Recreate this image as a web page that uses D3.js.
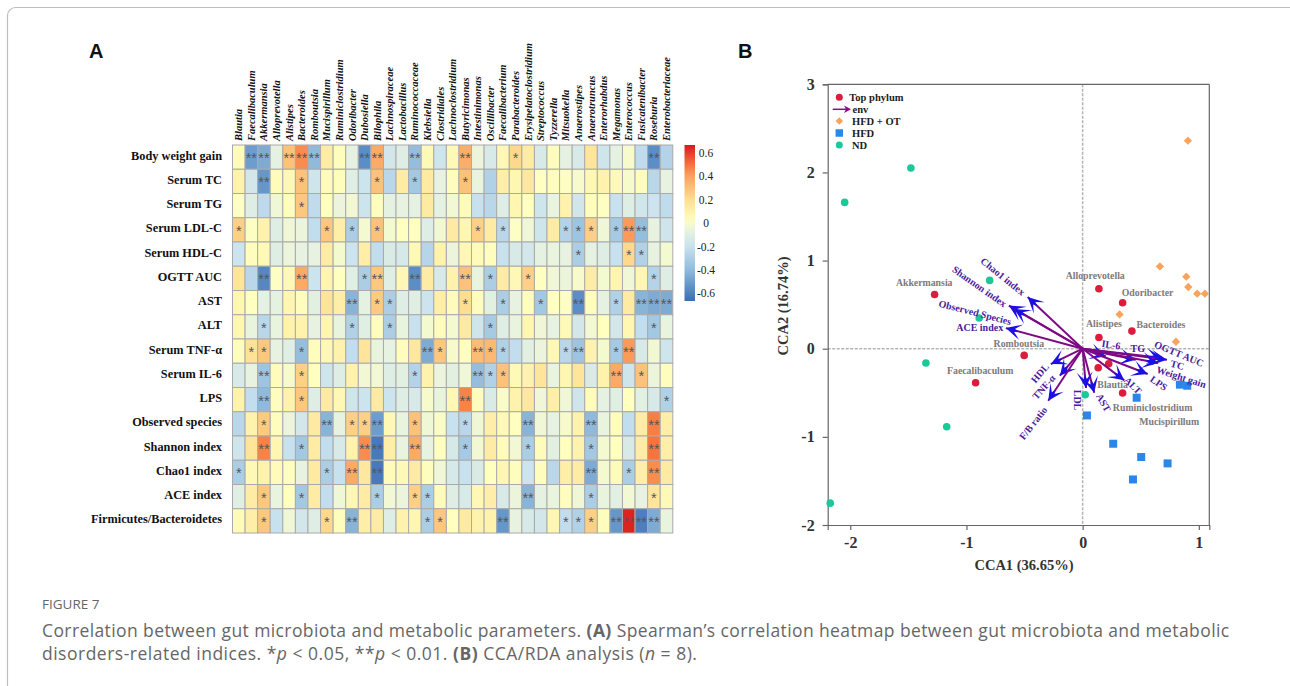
<!DOCTYPE html>
<html>
<head>
<meta charset="utf-8">
<title>Figure 7</title>
<script src="https://cdn.jsdelivr.net/npm/d3@7"></script>
<style>
  html, body { margin: 0; padding: 0; background: #fff; }
  svg { display: block; }
  .serif { font-family: "Liberation Serif", serif; font-weight: bold; }
</style>
</head>
<body>
<svg id="fig" width="1290" height="686"></svg>
<script>
// heatmap data
let genera = ['Blautia','Faecalibaculum','Akkermansia','Alloprevotella','Alistipes','Bacteroides','Romboutsia','Mucispirillum','Ruminiclostridium','Odoribacter','Dubosiella','Bilophila','Lachnospiraceae','Lactobacillus','Ruminococcaceae','Klebsiella','Clostridiales','Lachnoclostridium','Butyricimonas','Intestinimonas','Oscillibacter','Faecalibacterium','Parabacteroides','Erysipelatoclostridium','Streptococcus','Tyzzerella','Mitsuokella','Anaerostipes','Anaerotruncus','Enterorhabdus','Megamonas','Enterococcus','Fusicatenibacter','Roseburia','Enterobacteriaceae'];
let indices = ['Body weight gain','Serum TC','Serum TG','Serum LDL-C','Serum HDL-C','OGTT AUC','AST','ALT','Serum TNF-α','Serum IL-6','LPS','Observed species','Shannon index','Chao1 index','ACE index','Firmicutes/Bacteroidetes'];

let corr = [
  [.05,-.5,-.45,-.07,.3,.45,-.4,.13,.04,-.07,-.55,.38,-.15,-.1,-.38,.06,-.17,.06,.37,-.04,-.13,.07,.22,.13,-.13,.05,-.07,-.13,.17,-.17,-.07,0,-.23,-.55,-.27],
  [.1,-.15,-.52,.05,.07,.3,-.17,.05,.04,-.09,-.18,.3,-.25,.13,-.33,.14,-.06,.04,.3,-.05,-.28,.12,.08,.15,.03,.04,.02,0,.07,.1,.06,0,.04,-.25,-.06],
  [.02,-.1,-.24,-.03,.04,.28,-.23,.03,-.04,-.02,-.18,.04,-.07,-.06,-.07,.14,-.07,-.02,.05,-.2,-.25,-.1,.08,.03,-.17,-.05,.1,-.16,.04,.02,-.2,-.1,-.16,-.18,-.23],
  [.25,.02,.1,-.1,-.03,-.04,-.22,.28,.12,-.3,-.01,.3,-.01,.03,.03,-.1,-.02,.14,.08,.25,.13,-.25,.02,-.03,-.17,.13,-.27,-.35,.25,-.03,-.32,.42,-.38,-.06,-.17],
  [-.18,.04,.06,-.1,-.04,-.06,-.06,.13,-.01,-.18,.12,-.22,-.12,-.14,.06,-.26,.1,-.04,.07,.05,.04,-.2,-.13,-.15,-.07,-.05,-.06,-.3,-.07,-.1,-.2,.22,-.28,-.06,-.01],
  [.17,-.25,-.57,.02,.06,.38,-.18,.09,.03,-.09,-.3,.28,-.09,.07,-.55,.13,-.13,.1,.3,-.05,-.3,.13,.07,.25,.03,-.03,-.04,0,.13,-.01,.09,-.03,.08,-.27,-.1],
  [.08,.03,-.07,-.07,.08,.04,-.08,.17,.12,-.42,-.07,.27,-.3,-.1,-.09,-.18,.12,.05,.2,.04,-.08,-.3,-.06,.04,-.33,.03,.02,-.55,.04,-.07,-.28,.14,-.42,-.45,-.45],
  [.08,-.05,-.25,-.05,.1,.1,-.06,.09,-.05,-.28,-.09,.04,-.3,-.05,-.2,-.01,.05,-.01,.14,-.17,-.32,-.1,-.05,.08,-.03,-.06,.06,-.15,-.02,.03,-.15,.08,-.22,-.33,-.05],
  [.04,.18,.28,-.06,-.09,-.38,.04,.07,.1,-.22,.17,-.05,-.06,.04,.15,-.45,.28,0,.03,.32,.33,-.28,-.22,-.08,-.04,.07,-.25,-.35,.1,-.01,-.32,.42,-.13,-.02,-.17],
  [-.13,-.06,-.35,.05,0,.25,.03,-.17,-.1,.1,-.02,-.02,-.1,-.08,-.27,.1,-.04,-.08,-.03,-.38,-.28,.3,.06,.1,.17,-.05,.08,.17,-.12,.1,.38,-.17,.3,-.04,.04],
  [.1,-.22,-.4,.04,.1,.28,-.1,.14,.07,-.17,-.18,.14,-.18,-.1,-.13,0,-.05,.07,.47,.04,-.12,.01,.1,.15,-.03,.12,-.03,-.17,.05,-.07,-.09,.03,-.08,-.13,-.28],
  [-.25,.1,.27,.04,-.04,-.15,.14,-.42,-.06,.25,.25,-.5,.07,-.05,.3,-.03,.01,-.2,-.25,-.03,.12,.06,.03,-.42,-.03,-.06,0,.1,-.4,-.05,.04,-.22,.13,.48,.12],
  [-.17,.17,.47,.08,-.2,-.33,.13,-.22,-.13,.1,.45,-.62,.12,-.05,.38,-.06,.03,-.14,-.32,-.02,.13,.05,-.02,-.3,.05,-.08,.03,.1,-.33,-.01,.03,-.13,.13,.5,.12],
  [-.3,.06,.1,.05,.03,-.06,.14,-.3,-.2,.38,.15,-.62,.05,.06,.14,.04,-.03,-.14,-.2,-.12,.03,.08,.04,-.18,.04,-.25,.12,.13,-.45,-.01,.05,-.3,.12,.45,.14],
  [-.09,.13,.28,-.05,.03,-.33,.13,-.22,-.03,.07,.13,-.3,-.02,-.04,.25,-.3,.05,-.1,-.13,.07,.12,-.13,-.04,-.42,-.07,-.05,.04,-.03,-.3,-.05,-.08,-.02,-.06,.17,.06],
  [.05,.12,.28,-.2,-.03,-.15,-.1,.22,.04,-.42,.12,.13,-.1,.1,.08,-.3,.28,.03,.14,.1,.1,-.52,-.06,-.13,-.15,.08,-.22,-.28,.25,.04,-.52,.65,-.6,-.45,-.05]
];

// columns that carry one or two stars, per row
let oneStar = [[22],[5,11,14,18],[5],[0,7,9,11,19,21,26,27,28,30],[27,31,32],[10,20,23,33],[11,12,18,21,24,30],[2,9,12,20,33],[1,2,5,16,20,21,26,30],[5,14,20,21,32],[5,34],[2,9,10,14,18],[5,18,23,28],[0,7,31],[2,5,11,14,15,28,33],[2,7,15,16,26,27,28]];
let twoStar = [[1,2,4,5,6,10,11,14,18,33],[2],[],[31,32],[],[2,5,11,14,18],[9,27,32,33,34],[],[15,19,27,31],[2,19,30],[2,18],[7,11,23,28,33],[2,10,11,14,33],[9,11,28,33],[23],[9,21,30,31,32,33]];

let colorTicks = [0.6,0.4,0.2,0,-0.2,-0.4,-0.6];
let colorStops = [-0.66,-0.55,-0.4,-0.2,-0.05,0.03,0.2,0.4,0.5,0.67];
let colorRange = ['#3c6db4','#5b8ec6','#8fbadb','#c8e1ef','#e9f4df','#ffffc0','#fedf92','#fca45f','#f8743f','#d7191c'];

// CCA data
let taxa = ['Akkermansia','Alloprevotella','Odoribacter','Bacteroides','Alistipes','Romboutsia','Faecalibaculum','Blautia','Mucispirillum','Ruminiclostridium'];
let taxaX = [-1.274,.14,.344,.424,.14,-.503,-.921,.134,.224,.344];
let taxaY = [.616,.681,.522,.2,.128,-.076,-.386,-.216,-.17,-.503];
let otX = [.665,.892,.909,.986,1.052,.318,.803,.906];
let otY = [.934,.817,.70,.624,.624,.389,.079,2.36];
let hfdX = [.837,.90,.465,.037,.263,.504,.731,.433];
let hfdY = [-.408,-.42,-.556,-.757,-1.078,-1.229,-1.301,-1.483];
let ndX = [-1.478,-2.048,-.80,-.89,-1.349,-1.17,.022,-2.172];
let ndY = [2.05,1.66,.775,.348,-.162,-.885,-.522,-1.752];
let envNames = ['Chao1 index','Shannon index','Observed Species','ACE index','IL-6','TG','OGTT AUC','TC','Weight gain','LPS','ALT','AST','LDL','HDL','TNF-α','F/B ratio'];
let envX = [-.473,-.635,-.589,-.661,.2,.458,.686,.726,.65,.56,.358,.10,.029,-.274,-.196,-.296];
let envY = [.586,.49,.449,.234,-.087,-.125,-.106,-.125,-.163,-.287,-.359,-.50,-.446,-.174,-.306,-.59];

// label placement (px from the taxon dot, then px centre + angle for env labels)
let taxaDx = [-10.4,-3.7,25,29,5,-5.3,4.6,14.4,60.6,30];
let taxaDy = [-11.4,-12.3,-9.3,-6,-13,-11.4,-11.7,17.7,58.3,15];
let envLabelX = [1002.7,979.3,975,979.7,1111,1137.7,1179,1177.3,1181.3,1158.7,1132.7,1103.3,1077,1040,1044,1033.3];
let envLabelY = [276.7,286.7,312.7,327.3,345,348.3,354,365.3,377.3,383.3,385.7,402.7,400,373.3,387.3,423.3];
let envAngle = [39,35,14.5,0,8,0,22.5,15,17.6,35,45,60,90,-50,-48,-52];

let svg = d3.select('#fig');

// card outline, runs off the right and bottom of the page
svg.append('rect').attr('x',7.5).attr('y',7.5).attr('width',1400).attr('height',800).attr('rx',8)
    .attr('fill','none').attr('stroke','#bdbdbd').attr('stroke-width',1.2);

svg.append('text').attr('x',89).attr('y',58).text('A')
    .style('font-family','"Liberation Sans"').style('font-weight','bold').style('font-size','20px').attr('fill','#111');
svg.append('text').attr('x',738).attr('y',58).text('B')
    .style('font-family','"Liberation Sans"').style('font-weight','bold').style('font-size','20px').attr('fill','#111');

function drawHeatmap(){
    let x = d3.scaleBand().domain(d3.range(genera.length)).range([232.5,672.8]);
    let y = d3.scaleBand().domain(d3.range(indices.length)).range([145,533]);
    let color = d3.scaleLinear().domain(colorStops).range(colorRange);
    let g = svg.append('g');

    corr.forEach(function(row,i){
        g.selectAll(null).data(row).enter().append('rect')
            .attr('x',(d,j) => x(j))
            .attr('y',y(i))
            .attr('width',x.bandwidth())
            .attr('height',y.bandwidth())
            .attr('fill',d => color(d))
            .attr('stroke','#aaaaaa')
            .attr('stroke-width',1);

        let stars = oneStar[i].map(c => [c,'*']).concat(twoStar[i].map(c => [c,'**']));
        g.selectAll(null).data(stars).enter().append('text')
            .attr('x',d => x(d[0]) + x.bandwidth()/2)
            .attr('y',y(i) + y.bandwidth()/2 + 6)
            .attr('text-anchor','middle')
            .text(d => d[1])
            .style('font-family','"Liberation Sans"')
            .style('font-size','14.5px')
            .attr('fill','#55565c');
    });

    g.selectAll(null).data(genera).enter().append('text')
        .attr('class','serif')
        .attr('transform',(d,j) => 'translate(' + (x(j)+x.bandwidth()/2+3.5) + ',141) rotate(-90)')
        .text(d => d)
        .style('font-size','10.5px')
        .style('font-style','italic')
        .attr('fill','#111');

    g.selectAll(null).data(indices).enter().append('text')
        .attr('class','serif')
        .attr('x',222)
        .attr('y',(d,i) => y(i)+y.bandwidth()/2+2.5)
        .attr('text-anchor','end')
        .text(d => d)
        .style('font-size','12.3px')
        .attr('fill','#111');

    // colour bar
    let barY = d3.scaleLinear().domain([0.67,-0.66]).range([145,301]);
    let grad = svg.append('defs').append('linearGradient').attr('id','bar')
        .attr('x1',0).attr('x2',0).attr('y1',0).attr('y2',1);
    d3.range(0,1.001,0.05).forEach(function(t){
        grad.append('stop').attr('offset',t).attr('stop-color',color(barY.invert(145+156*t)));
    });
    g.append('rect').attr('x',684.5).attr('y',145).attr('width',10.5).attr('height',156).attr('fill','url(#bar)');
    g.selectAll(null).data(colorTicks).enter().append('text')
        .attr('x',706)
        .attr('y',d => barY(d)+3.5)
        .attr('text-anchor','middle')
        .text(d => d)
        .style('font-family','"Liberation Serif"')
        .style('font-size','11.5px')
        .attr('fill','#222');
}

function drawCCA(){
    let x = d3.scaleLinear().domain([-2.194,1.09]).range([827.7,1209.3]);
    let y = d3.scaleLinear().domain([-2,3]).range([525,84.3]);
    let g = svg.append('g');

    // zero lines
    g.append('line').attr('x1',x(0)).attr('x2',x(0)).attr('y1',y(3)).attr('y2',y(-2))
        .attr('stroke','#b4b4b4').attr('stroke-width',1.5).attr('stroke-dasharray','3,1.5');
    g.append('line').attr('x1',x.range()[0]).attr('x2',x.range()[1]).attr('y1',y(0)).attr('y2',y(0))
        .attr('stroke','#b4b4b4').attr('stroke-width',1.5).attr('stroke-dasharray','3,1.5');

    let axB = g.append('g').attr('transform','translate(0,525)').call(d3.axisBottom(x).tickValues([-2,-1,0,1]).tickFormat(d => String(d)).tickSize(5));
    let axL = g.append('g').attr('transform','translate(827.7,0)').call(d3.axisLeft(y).tickValues([-2,-1,0,1,2,3]).tickFormat(d => String(d)).tickSize(5));
    [axB,axL].forEach(function(a){
        a.selectAll('path,line').attr('stroke','#666').attr('stroke-width',1.2);
        a.selectAll('text').attr('class','serif').style('font-size','16px').attr('fill','#333');
    });
    axB.selectAll('text').attr('dy','0.95em');
    axL.selectAll('text').attr('dx','-5px');
    // closing the frame on top and right
    g.append('line').attr('x1',827.7).attr('x2',1209.3).attr('y1',84.3).attr('y2',84.3).attr('stroke','#666').attr('stroke-width',1.2);
    g.append('line').attr('x1',1209.3).attr('x2',1209.3).attr('y1',84.3).attr('y2',525).attr('stroke','#666').attr('stroke-width',1.2);

    g.append('text').attr('class','serif').attr('x',1024).attr('y',570).attr('text-anchor','middle')
        .text('CCA1 (36.65%)').style('font-size','14.5px').attr('fill','#333');
    g.append('text').attr('class','serif').attr('transform','translate(788,306) rotate(-90)').attr('text-anchor','middle')
        .text('CCA2 (16.74%)').style('font-size','14.5px').attr('fill','#333');

    // group points
    g.selectAll(null).data(ndX).enter().append('circle')
        .attr('cx',d => x(d)).attr('cy',(d,i) => y(ndY[i])).attr('r',3.8).attr('fill','#1cc79a');
    g.selectAll(null).data(otX).enter().append('path')
        .attr('d',d3.symbol().type(d3.symbolDiamond2).size(44))
        .attr('transform',(d,i) => 'translate(' + x(d) + ',' + y(otY[i]) + ')').attr('fill','#f9a45c');
    g.selectAll(null).data(hfdX).enter().append('path')
        .attr('d',d3.symbol().type(d3.symbolSquare).size(64))
        .attr('transform',(d,i) => 'translate(' + x(d) + ',' + y(hfdY[i]) + ')').attr('fill','#2a86ea');
    g.selectAll(null).data(taxaX).enter().append('circle')
        .attr('cx',d => x(d)).attr('cy',(d,i) => y(taxaY[i])).attr('r',3.8).attr('fill','#dc1c3c');

    g.selectAll(null).data(taxa).enter().append('text')
        .attr('class','serif')
        .attr('x',(d,i) => x(taxaX[i]) + taxaDx[i])
        .attr('y',(d,i) => y(taxaY[i]) + taxaDy[i] + 3)
        .attr('text-anchor','middle')
        .text(d => d)
        .style('font-size','9.8px')
        .attr('fill','#7d7a7a');

    // env arrows
    let marker = svg.select('defs').append('marker').attr('id','head')
        .attr('markerUnits','userSpaceOnUse')
        .attr('viewBox','-18 -9 19 18')
        .attr('refX',0).attr('refY',0)
        .attr('markerWidth',19).attr('markerHeight',18)
        .attr('orient','auto');
    marker.append('path').attr('d','M0,0 L-16,-8 L-9,-1.6 L-13,0 L-9,1.6 L-16,8 Z').attr('fill','#1c0fe6');

    g.selectAll(null).data(envX).enter().append('line')
        .attr('x1',x(0)).attr('y1',y(0))
        .attr('x2',d => x(d)).attr('y2',(d,i) => y(envY[i]))
        .attr('stroke','#7d0a85').attr('stroke-width',2)
        .attr('marker-end','url(#head)');

    g.selectAll(null).data(envNames).enter().append('text')
        .attr('class','serif')
        .attr('transform',(d,i) => 'translate(' + envLabelX[i] + ',' + (envLabelY[i]) + ') rotate(' + envAngle[i] + ')')
        .attr('text-anchor','middle').attr('dy','0.32em')
        .text(d => d)
        .style('font-size','10px')
        .attr('fill','#4a1a9c');

    // legend
    let lg = g.append('g');
    lg.append('circle').attr('cx',839.3).attr('cy',97.3).attr('r',3.5).attr('fill','#dc1c3c');
    lg.append('line').attr('x1',832.7).attr('x2',846).attr('y1',109.3).attr('y2',109.3).attr('stroke','#8b0a90').attr('stroke-width',1.5);
    lg.append('path').attr('d','M851,109.3 L844,105.5 L846,109.3 L844,113 Z').attr('fill','#8b0a90');
    lg.append('path').attr('d',d3.symbol().type(d3.symbolDiamond2).size(36)).attr('transform','translate(839.3,121)').attr('fill','#f9a45c');
    lg.append('path').attr('d',d3.symbol().type(d3.symbolSquare).size(56)).attr('transform','translate(839.3,133)').attr('fill','#2a86ea');
    lg.append('circle').attr('cx',839.3).attr('cy',145).attr('r',3.5).attr('fill','#1cc79a');
    let legendNames = ['Top phylum','env','HFD + OT','HFD','ND'];
    let legendX = [849.3,852.5,852,852,852];
    lg.selectAll(null).data(legendNames).enter().append('text')
        .attr('class','serif')
        .attr('x',(d,i) => legendX[i])
        .attr('y',(d,i) => 101 + i*12)
        .text(d => d)
        .style('font-size','10.5px')
        .attr('fill','#1c1c1c');
}

function drawCaption(){
    let font = '"Open Sans", Lato, sans-serif';
    svg.append('text').attr('x',42).attr('y',609).text('FIGURE 7')
        .style('font-family',font).style('font-size','13.5px').attr('fill','#666');
    let line1 = svg.append('text').attr('x',42).attr('y',637)
        .style('font-family',font).style('font-size','17.5px').style('letter-spacing','0.4px').attr('fill','#666');
    line1.append('tspan').text('Correlation between gut microbiota and metabolic parameters. ');
    line1.append('tspan').text('(A)').style('font-weight','bold');
    line1.append('tspan').text(' Spearman\u2019s correlation heatmap between gut microbiota and metabolic');
    let line2 = svg.append('text').attr('x',42).attr('y',660)
        .style('font-family',font).style('font-size','17.5px').style('letter-spacing','0.5px').attr('fill','#666');
    line2.append('tspan').text('disorders-related indices. *');
    line2.append('tspan').text('p').style('font-style','italic');
    line2.append('tspan').text(' < 0.05, **');
    line2.append('tspan').text('p').style('font-style','italic');
    line2.append('tspan').text(' < 0.01. ');
    line2.append('tspan').text('(B)').style('font-weight','bold');
    line2.append('tspan').text(' CCA/RDA analysis (');
    line2.append('tspan').text('n').style('font-style','italic');
    line2.append('tspan').text(' = 8).');
}

drawHeatmap();
drawCCA();
drawCaption();
</script>
</body>
</html>
